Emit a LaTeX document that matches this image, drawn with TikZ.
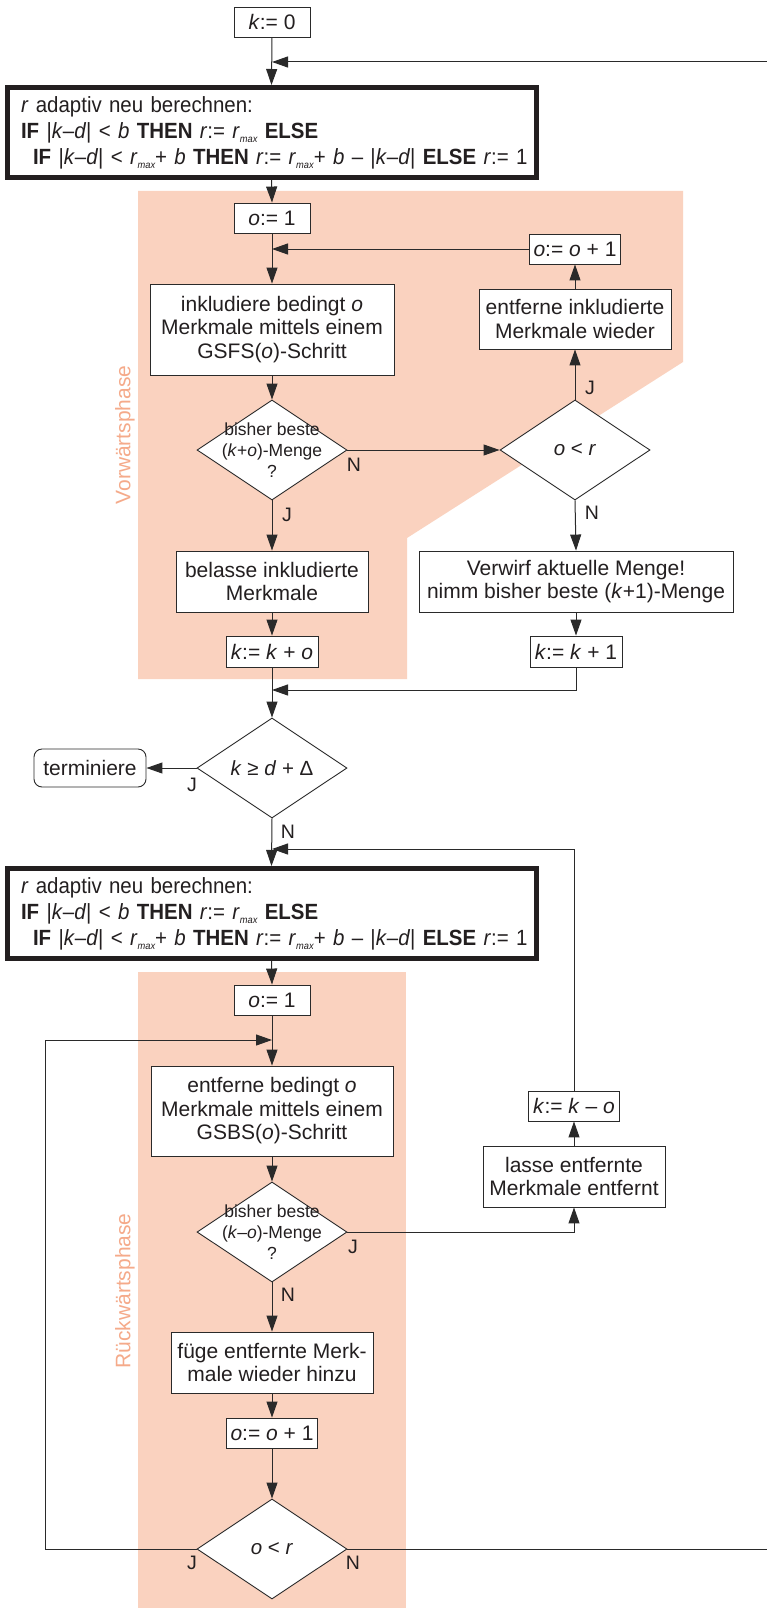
\documentclass[tikz,border=0pt]{standalone}
\usepackage{fontspec}
\setmainfont{Liberation Sans}
\newfontfamily\calcfont{Liberation Sans}[FakeStretch=0.93]
\usetikzlibrary{shapes.geometric,arrows.meta}

\definecolor{phasefill}{HTML}{FAD2BF}
\definecolor{phasetext}{HTML}{F5AA8A}
\definecolor{ink}{HTML}{231F20}
\definecolor{wire}{HTML}{2A2A2A}

% r with a small lowered "max" index
\newcommand{\rmx}{\textit{r}\raisebox{-4pt}{\fontsize{10}{10}\selectfont\itshape max}}

\tikzset{
  box/.style={draw=wire, line width=0.9pt, fill=white, inner sep=0pt,
    align=center, text=ink, font=\fontsize{21}{23.5}\selectfont},
  thickbox/.style={draw=ink, line width=5pt, fill=white, inner ysep=0pt,
    inner xsep=14pt, text width=501pt, minimum height=90pt, align=left,
    text=ink, font=\calcfont\fontsize{22}{26}\selectfont},
  decision/.style={diamond, aspect=1.5, draw=wire, line width=0.9pt, fill=white,
    minimum width=150pt, minimum height=100pt, inner sep=0pt},
  dtext/.style={align=center, inner sep=0pt, text=ink,
    font=\fontsize{17.5}{21}\selectfont},
  ctext/.style={inner sep=0pt, text=ink, font=\fontsize{20.5}{20.5}\selectfont},
  yn/.style={inner sep=0pt, text=ink, font=\fontsize{19.5}{19.5}\selectfont},
  flow/.style={draw=wire, line width=1pt, -{Triangle[length=16pt,width=11pt]}},
  link/.style={draw=wire, line width=1pt},
  phase/.style={rotate=90, inner sep=0pt, text=phasetext,
    font=\fontsize{21}{21}\selectfont},
}

% the three lines that compute r
\newcommand{\rcalc}{\textit{r} adaptiv neu berechnen:\\
\mbox{\textbf{IF} |\textit{k}–\textit{d}| < \textit{b} \textbf{THEN} \textit{r}:= \rmx\ \textbf{ELSE}}\\
\mbox{\hspace*{12pt}\textbf{IF} |\textit{k}–\textit{d}| < \rmx+ \textit{b} \textbf{THEN} \textit{r}:= \rmx+ \textit{b} – |\textit{k}–\textit{d}| \textbf{ELSE} \textit{r}:= 1}}

\begin{document}
\begin{tikzpicture}[x=1pt,y=-1pt]
\path[use as bounding box, fill=white] (0,0) rectangle (767,1608);

% phase backgrounds
\fill[phasefill] (138,191) -- (683,191) -- (683,362) -- (407,538) -- (407,679) -- (138,679) -- cycle;
\fill[phasefill] (138,972) rectangle (406,1608);
\node[phase] (vorw) at (125,435) {Vorwärtsphase};
\node[phase] (rueck) at (125,1291) {Rückwärtsphase};

% ---------- forward part ----------
\node[box, minimum width=76pt, minimum height=30pt] (k0) at (272,22) {\textit{k}:= 0};
\coordinate (rin) at (767,62);

\node[thickbox] (calc1) at (271.5,132.5) {\rcalc};

\node[box, minimum width=76pt, minimum height=30pt] (o1) at (272,218) {\textit{o}:= 1};
\node[box, minimum width=91pt, minimum height=30pt] (oinc) at (575,249) {\textit{o}:= \textit{o} + 1};
\node[box, minimum width=244pt, minimum height=91pt] (gsfs) at (272,329.5)
  {inkludiere bedingt \textit{o}\\Merkmale mittels einem\\GSFS(\textit{o})-Schritt};
\node[box, minimum width=192pt, minimum height=60pt] (entf) at (575,319)
  {entferne inkludierte\\Merkmale wieder};

\node[decision] (q1) at (272,450) {};
\node[dtext] (q1t) at (q1) {bisher beste\\(\textit{k}+\textit{o})-Menge\\?};
\node[decision] (q2) at (575,450) {};
\node[ctext] (q2t) at (q2) {\textit{o} < \textit{r}};

\node[box, minimum width=192pt, minimum height=61pt] (bel) at (272,581.5)
  {belasse inkludierte\\Merkmale};
\node[box, minimum width=314pt, minimum height=61pt] (verw) at (576,581.5)
  {Verwirf aktuelle Menge!\\nimm bisher beste (\textit{k}+1)-Menge};
\node[box, minimum width=92pt, minimum height=31pt] (kko) at (272,651.5) {\textit{k}:= \textit{k} + \textit{o}};
\node[box, minimum width=92pt, minimum height=31pt] (kk1) at (576,651.5) {\textit{k}:= \textit{k} + 1};
\coordinate (m1) at (272,690);

\node[decision] (q3) at (272,768) {};
\node[ctext] (q3t) at (q3) {\textit{k} ≥ \textit{d} + Δ};
\node[box, rounded corners=8pt, minimum width=112pt, minimum height=38pt] (term) at (90,768) {terminiere};

\node[yn] (n1) at (354,465) {N};
\node[yn] (j1) at (590,388) {J};
\node[yn] (j2) at (287,515) {J};
\node[yn] (n2) at (592,513) {N};
\node[yn] (j3) at (192,785) {J};
\node[yn] (n3) at (288,832) {N};

% ---------- backward part ----------
\coordinate (m2) at (272,849);
\node[thickbox] (calc2) at (271.5,913.5) {\rcalc};

\node[box, minimum width=76pt, minimum height=30pt] (o1b) at (272,1000) {\textit{o}:= 1};
\coordinate (m3) at (272,1040);
\coordinate (lp) at (45,1040);
\node[box, minimum width=242pt, minimum height=90pt] (gsbs) at (272,1111)
  {entferne bedingt \textit{o}\\Merkmale mittels einem\\GSBS(\textit{o})-Schritt};
\node[box, minimum width=91pt, minimum height=30pt] (kmo) at (574,1106) {\textit{k}:= \textit{k} – \textit{o}};
\node[box, minimum width=182pt, minimum height=61pt] (lasse) at (574,1176.5)
  {lasse entfernte\\Merkmale entfernt};

\node[decision] (q4) at (272,1232) {};
\node[dtext] (q4t) at (q4) {bisher beste\\(\textit{k}–\textit{o})-Menge\\?};
\node[box, minimum width=202pt, minimum height=61pt] (fuege) at (272,1362.5)
  {füge entfernte Merk-\\male wieder hinzu};
\node[box, minimum width=91pt, minimum height=30pt] (oinc2) at (272,1433) {\textit{o}:= \textit{o} + 1};
\node[decision] (q5) at (272,1549) {};
\node[ctext] (q5t) at (q5) {\textit{o} < \textit{r}};
\coordinate (rout) at (767,1549);

\node[yn] (j4) at (353,1247) {J};
\node[yn] (n4) at (288,1295) {N};
\node[yn] (j5) at (192,1563) {J};
\node[yn] (n5) at (353,1563) {N};

% ---------- connectors ----------
\draw[flow] (k0.south) -- (calc1.north);
\draw[flow] (rin) -- (k0.south |- rin);
\draw[flow] (calc1.south) -- (o1.north);
\draw[flow] (o1.south) -- (gsfs.north);
\draw[flow] (oinc.west) -- (o1.south |- oinc.west);
\draw[flow] (gsfs.south) -- (q1.north);
\draw[flow] (q1.east) -- (q2.west);
\draw[flow] (q2.north) -- (entf.south);
\draw[flow] (entf.north) -- (oinc.south);
\draw[flow] (q1.south) -- (bel.north);
\draw[flow] (bel.south) -- (kko.north);
\draw[flow] (q2.south) -- (verw.north);
\draw[flow] (verw.south) -- (kk1.north);
\draw[flow] (kko.south) -- (q3.north);
\draw[flow] (kk1.south) |- (m1);
\draw[flow] (q3.west) -- (term.east);
\draw[flow] (q3.south) -- (calc2.north);
\draw[flow] (kmo.north) |- (m2);
\draw[flow] (calc2.south) -- (o1b.north);
\draw[flow] (o1b.south) -- (gsbs.north);
\draw[flow] (q5.west) -| (lp) -- (m3);
\draw[flow] (gsbs.south) -- (q4.north);
\draw[flow] (q4.east) -| (lasse.south);
\draw[flow] (lasse.north) -- (kmo.south);
\draw[flow] (q4.south) -- (fuege.north);
\draw[flow] (fuege.south) -- (oinc2.north);
\draw[flow] (oinc2.south) -- (q5.north);
\draw[link] (q5.east) -- (rout);
\end{tikzpicture}
\end{document}
